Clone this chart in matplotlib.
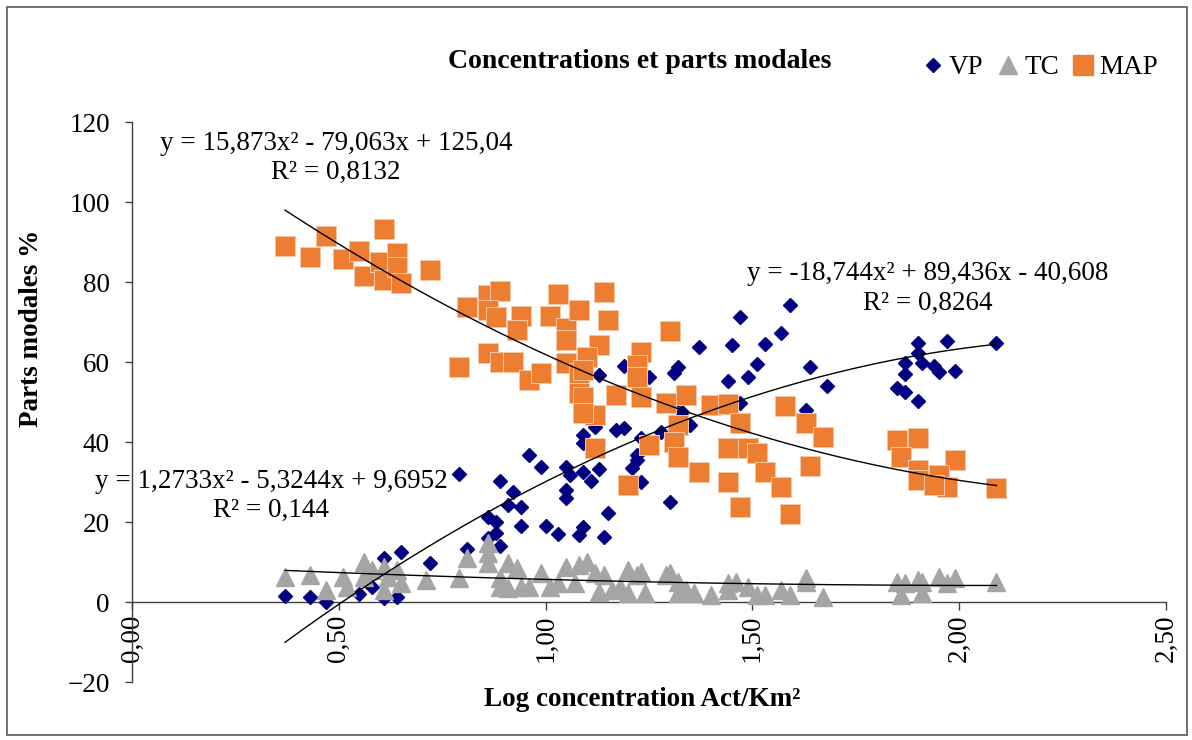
import matplotlib
matplotlib.use("Agg")
import matplotlib.pyplot as plt
import matplotlib.patches as mpatches
from matplotlib.lines import Line2D
import numpy as np

plt.rcParams["font.family"] = ["Liberation Serif", "DejaVu Serif"]

# --- données ---
vp_x = [1.59, 1.47, 1.57, 1.37, 1.45, 1.53, 1.51, 1.64, 1.68, 1.32,
        1.31, 1.44, 1.49, 1.25, 1.19, 1.13, 1.47, 1.63, 1.32, 1.33,
        1.35, 1.28, 1.23, 1.19, 1.17, 1.12, 1.09, 1.09, 1.22, 1.22,
        1.21, 1.23, 1.13, 1.05, 1.06, 1.09, 1.11, 1.05, 1.05, 1.30,
        1.15, 1.09, 1.08, 1.14,
        1.90, 1.97, 2.09, 1.90, 1.87, 1.91, 1.94, 1.95, 1.99, 1.87,
        1.85, 1.87, 1.90,
        0.79, 0.96, 0.99, 0.89, 0.92, 0.91, 0.94, 0.86, 0.88, 0.94,
        1.00, 1.03, 0.88, 0.86, 0.89, 0.81, 0.65, 0.61, 0.72, 0.37,
        0.43, 0.47, 0.55, 0.61, 0.64, 0.58]
vp_y = [74.3, 71.3, 67.3, 63.8, 64.3, 64.5, 59.5, 58.8, 54.0, 58.8,
        57.3, 55.3, 56.3, 56.3, 59.0, 56.8, 49.8, 48.0, 50.5, 47.5,
        44.3, 42.5, 41.0, 43.5, 43.0, 43.8, 41.8, 39.8, 36.8, 35.5,
        33.5, 30.0, 33.3, 33.8, 31.8, 32.5, 30.3, 28.0, 26.0, 25.0,
        22.3, 18.8, 16.8, 16.3,
        64.8, 65.3, 64.8, 62.3, 59.8, 59.8, 59.0, 57.5, 57.8, 57.0,
        53.5, 52.5, 50.3,
        32.0, 36.8, 33.8, 30.3, 27.5, 24.3, 23.8, 21.3, 20.0, 19.0,
        19.0, 17.0, 17.3, 16.0, 14.0, 13.3, 12.5, 11.0, 9.8, 1.5,
        1.3, 0.0, 2.0, 1.0, 1.3, 3.8]

tc_x = [0.37, 0.43, 0.47, 0.51, 0.52, 0.56, 0.56, 0.58, 0.61, 0.62,
        0.64, 0.65, 0.61, 0.71, 0.79, 0.81, 0.86, 0.86, 0.86, 0.91,
        0.93, 0.89, 0.89, 0.91, 0.94, 0.96, 0.99, 1.01, 1.03, 1.05,
        1.07,
        1.08, 1.10, 1.12, 1.14, 1.13, 1.16, 1.20, 1.22, 1.23, 1.18,
        1.20, 1.24, 1.29, 1.30, 1.32, 1.32, 1.34, 1.36, 1.40, 1.44,
        1.44, 1.46, 1.49, 1.51, 1.53, 1.57, 1.59, 1.63, 1.63, 1.67,
        1.85, 1.87, 1.86, 1.90, 1.91, 1.91, 1.95, 1.97, 1.99, 2.09]
tc_y = [6.3, 6.8, 3.0, 6.3, 3.8, 10.0, 6.3, 8.0, 8.8, 6.3,
        8.0, 4.8, 3.0, 5.5, 6.0, 11.0, 14.8, 12.3, 9.8, 9.8,
        8.5, 6.0, 3.8, 3.5, 3.8, 3.8, 7.3, 3.8, 4.8, 8.8,
        4.8,
        9.3, 10.0, 7.3, 6.8, 2.5, 3.0, 8.0, 6.8, 7.5, 3.8,
        2.3, 2.3, 6.8, 7.3, 5.0, 2.3, 3.0, 2.3, 1.8, 4.8,
        3.0, 5.0, 3.8, 1.8, 1.8, 3.0, 1.8, 6.0, 5.0, 1.3,
        5.0, 4.8, 1.8, 5.5, 5.0, 2.3, 6.3, 4.8, 6.0, 5.0]

map_x = [0.37, 0.43, 0.47, 0.51, 0.55, 0.56, 0.61, 0.60, 0.61, 0.64,
         0.64, 0.65, 0.72, 0.79, 0.81, 0.86, 0.89, 0.86, 0.88, 0.94,
         0.93, 0.86, 0.89, 0.92, 0.96, 0.99, 1.03, 1.01, 1.05, 1.05,
         1.05, 1.08, 1.08, 1.08,
         1.14, 1.15, 1.13, 1.10, 1.23, 1.22, 1.30, 1.09, 1.22, 1.17,
         1.23, 1.09, 1.12, 1.09, 1.29, 1.34, 1.40, 1.44, 1.32, 1.31,
         1.32, 1.37, 1.47, 1.44, 1.49, 1.51, 1.53, 1.57, 1.12, 1.20,
         1.25, 1.44, 1.47, 1.59, 1.58, 1.63, 1.67, 1.64,
         1.85, 1.90, 1.86, 1.99, 1.90, 1.90, 1.95, 1.97, 2.09, 1.94]
map_y = [89.0, 86.2, 91.5, 85.8, 87.8, 81.5, 93.2, 85.0, 80.5, 87.2,
         83.8, 79.8, 83.0, 58.8, 73.8, 76.8, 77.8, 73.0, 71.3, 71.5,
         68.0, 62.3, 60.0, 60.0, 55.5, 57.3, 77.0, 71.5, 68.5, 65.5,
         59.8, 73.0, 57.3, 52.3,
         77.5, 70.5, 64.3, 61.3, 62.5, 59.3, 67.8, 58.0, 56.3, 51.8,
         51.3, 51.3, 46.8, 47.3, 49.8, 51.8, 49.3, 49.5, 44.3, 40.0,
         36.3, 32.5, 44.8, 38.5, 38.5, 37.3, 32.5, 28.8, 38.5, 29.3,
         39.3, 30.0, 23.8, 22.0, 49.0, 44.8, 41.3, 34.0,
         40.5, 41.0, 36.3, 35.5, 33.0, 30.5, 31.8, 28.8, 28.5, 29.3]

# courbes de tendance polynomiales (coefficients affichés)
vp_coef = [-18.744, 89.436, -40.608]
tc_coef = [1.2733, -5.3244, 9.6952]
map_coef = [15.873, -79.063, 125.04]

vp_eq = ["y = -18,744x² + 89,436x - 40,608", "R² = 0,8264"]
tc_eq = ["y = 1,2733x² - 5,3244x + 9,6952", "R² = 0,144"]
map_eq = ["y = 15,873x² - 79,063x + 125,04", "R² = 0,8132"]

x_ticks = [0.0, 0.5, 1.0, 1.5, 2.0, 2.5]
x_labels = ["0,00", "0,50", "1,00", "1,50", "2,00", "2,50"]
y_ticks = [-20, 0, 20, 40, 60, 80, 100, 120]

VP_COL = "#000080"
TC_COL = "#A5A5A5"
MAP_COL = "#ED7D31"
AX_COL = "#404040"
FS = 19.5

fig = plt.figure(figsize=(11.92, 7.40), dpi=100)
ax = fig.add_axes([132 / 1192, 1 - 682 / 740, (1166 - 132) / 1192, 560 / 740])

ax.plot(vp_x, vp_y, ls="none", marker="D", ms=7.3, color=VP_COL, mec=VP_COL, zorder=3)
ax.plot(tc_x, tc_y, ls="none", marker="^", ms=13, color=TC_COL, mec=TC_COL, zorder=4)
ax.plot(map_x, map_y, ls="none", marker="s", ms=14, color=MAP_COL,
        mec="#F6C7A6", mew=0.7, zorder=5)

# courbes de tendance
for xs, coef in [(vp_x, vp_coef), (tc_x, tc_coef), (map_x, map_coef)]:
    xx = np.linspace(min(xs), max(xs), 200)
    ax.plot(xx, np.polyval(coef, xx), color="black", lw=1.0, zorder=6)

ax.set_xlim(0, 2.5)
ax.set_ylim(-20, 120)
ax.spines["top"].set_visible(False)
ax.spines["right"].set_visible(False)
ax.spines["bottom"].set_position(("data", 0))
for s in ("left", "bottom"):
    ax.spines[s].set_color(AX_COL)
    ax.spines[s].set_linewidth(1.0)

ax.set_xticks(x_ticks)
ax.set_xticklabels(x_labels, rotation=90)
ax.set_yticks(y_ticks)
ax.tick_params(axis="x", direction="out", length=6, width=1.0, color=AX_COL,
               labelsize=FS, pad=3)
ax.tick_params(axis="y", direction="out", length=5, width=1.0, color=AX_COL,
               labelsize=FS, pad=11)

# équations (une ligne par texte, position en pixels de la figure)
def eq_label(lines, cx, y1, y2):
    for txt, py in zip(lines, (y1, y2)):
        fig.text(cx / 1192, 1 - py / 740, txt, ha="center", va="center",
                 fontsize=FS, zorder=7)

eq_label(map_eq, 336, 143, 172)
eq_label(vp_eq, 928, 273, 303)
eq_label(tc_eq, 271, 481, 510)

# titres
fig.text(640 / 1192, 1 - 62 / 740, "Concentrations et parts modales",
         ha="center", va="center", fontsize=20, fontweight="bold")
fig.text(642 / 1192, 1 - 700 / 740, "Log concentration Act/Km²",
         ha="center", va="center", fontsize=FS, fontweight="bold")
fig.text(32 / 1192, 1 - 328 / 740, "Parts modales %", rotation=90,
         ha="center", va="center", fontsize=FS, fontweight="bold")

# légende
handles = [
    Line2D([], [], ls="none", marker="D", ms=7.3, color=VP_COL, label="VP"),
    Line2D([], [], ls="none", marker="^", ms=13, color=TC_COL, label="TC"),
    Line2D([], [], ls="none", marker="s", ms=14, color=MAP_COL, label="MAP"),
]
fig.legend(handles=handles, loc="center", bbox_to_anchor=(1040 / 1192, 1 - 68 / 740),
           ncol=3, frameon=False, fontsize=FS, handlelength=0.8,
           handletextpad=0.2, columnspacing=0.5, borderpad=0)

# cadre extérieur
fig.patches.append(mpatches.Rectangle((7 / 1192, 5 / 740), 1180 / 1192, 728 / 740,
                                      transform=fig.transFigure, fill=False,
                                      edgecolor="#595959", lw=1.2))

fig.savefig("out.png", dpi=100)
